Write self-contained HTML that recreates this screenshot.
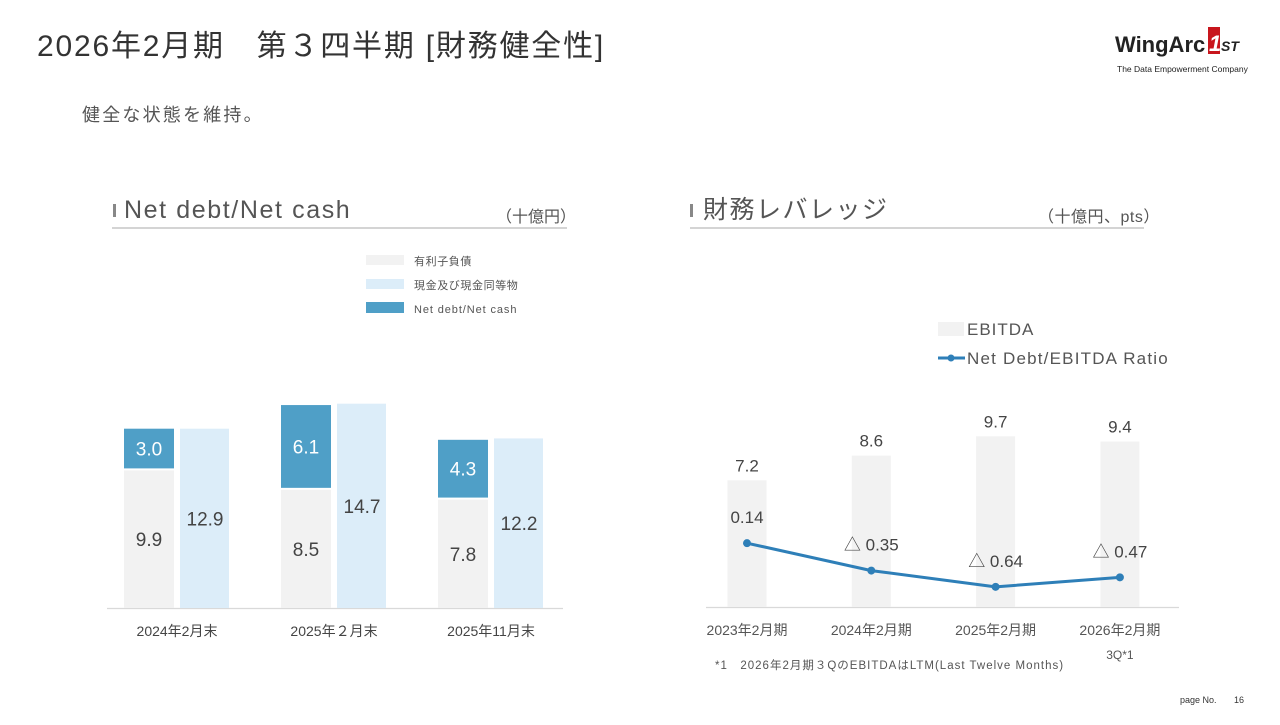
<!DOCTYPE html>
<html><head><meta charset="utf-8">
<style>
html,body{margin:0;padding:0;background:#fff;}
body{width:1280px;height:720px;overflow:hidden;position:relative;font-family:"Liberation Sans","Noto Sans CJK JP",sans-serif;}
svg text{font-family:"Liberation Sans","Noto Sans CJK JP",sans-serif;}
</style></head>
<body>
<svg width="1280" height="720" viewBox="0 0 1280 720">
  <text x="37" y="56" font-size="30" fill="#333" letter-spacing="1.8">2026年2月期　第３四半期 [財務健全性]</text>
  <g>
    <text x="1115" y="52" font-size="22" font-weight="bold" fill="#222">WingArc</text>
    <rect x="1208" y="27" width="12" height="27" fill="#c8161d"/>
    <text x="1209" y="51" font-size="22" font-weight="bold" fill="#fff" font-style="italic">1</text>
    <text x="1221" y="51" font-size="14" font-weight="bold" fill="#222" font-style="italic">ST</text>
    <text x="1117" y="72" font-size="8.5" fill="#222">The Data Empowerment Company</text>
  </g>
  <text x="82" y="121" font-size="18" fill="#555" letter-spacing="2.2">健全な状態を維持。</text>

  <rect x="113" y="204" width="3" height="13" fill="#888"/>
  <text x="124" y="218" font-size="25" fill="#555" letter-spacing="1.6">Net debt/Net cash</text>
  <text x="496" y="222" font-size="16" fill="#555">（十億円）</text>
  <line x1="112" y1="228" x2="567" y2="228" stroke="#bbb" stroke-width="1.2"/>

  <rect x="690" y="204" width="3" height="13" fill="#888"/>
  <text x="703" y="218" font-size="25" fill="#555" letter-spacing="1.5">財務レバレッジ</text>
  <text x="1038" y="222" font-size="16" fill="#555" letter-spacing="0.5">（十億円、pts）</text>
  <line x1="690" y1="228" x2="1144" y2="228" stroke="#bbb" stroke-width="1.2"/>

  <g>
    <rect x="366" y="255" width="38" height="10" fill="#f2f2f2"/>
    <text x="414" y="265" font-size="11" fill="#555" letter-spacing="0.6">有利子負債</text>
    <rect x="366" y="279" width="38" height="10" fill="#dcedf9"/>
    <text x="414" y="289" font-size="11" fill="#555" letter-spacing="0.6">現金及び現金同等物</text>
    <rect x="366" y="302" width="38" height="11" fill="#4f9fc7"/>
    <text x="414" y="313" font-size="11" fill="#555" letter-spacing="0.9">Net debt/Net cash</text>
  </g>

  <g>
    <rect x="938" y="322" width="26" height="14" fill="#f2f2f2"/>
    <text x="967" y="335" font-size="17" fill="#555" letter-spacing="1">EBITDA</text>
    <line x1="938" y1="358" x2="965" y2="358" stroke="#2e7fb8" stroke-width="3"/>
    <circle cx="951" cy="358" r="3.5" fill="#2e7fb8"/>
    <text x="967" y="364" font-size="17" fill="#555" letter-spacing="1.2">Net Debt/EBITDA Ratio</text>
  </g>

  <g id="left-chart"></g>
  <g id="right-chart"></g>

  <text x="715" y="669" font-size="11.5" fill="#555" letter-spacing="1">*1　2026年2月期３QのEBITDAはLTM(Last Twelve Months)</text>
  <text x="1180" y="703" font-size="9" fill="#333">page No.</text>
  <text x="1234" y="703" font-size="9" fill="#333">16</text>
</svg>
<script>
const leftCategories = ["2024年2月末", "2025年２月末", "2025年11月末"];
const debtValues = [9.9, 8.5, 7.8];
const netCashValues = [3.0, 6.1, 4.3];
const cashValues = [12.9, 14.7, 12.2];

const rightCategories = ["2023年2月期", "2024年2月期", "2025年2月期", "2026年2月期"];
const ebitdaValues = [7.2, 8.6, 9.7, 9.4];
const ratioValues = [0.14, -0.35, -0.64, -0.47];

const NS = "http://www.w3.org/2000/svg";
function mk(parent, tag, attrs, text) {
  const e = document.createElementNS(NS, tag);
  for (const k in attrs) e.setAttribute(k, attrs[k]);
  if (text !== undefined) e.textContent = text;
  parent.appendChild(e);
  return e;
}

const L = document.getElementById("left-chart");
const lBase = 608, lScale = 13.9;
const lY = v => lBase - v * lScale;
const lX = i => 177 + i * 157;
const bw = 50;
mk(L, "line", {x1: 107, y1: lBase + 0.5, x2: 563, y2: lBase + 0.5, stroke: "#d9d9d9", "stroke-width": 1.2});
leftCategories.forEach((c, i) => {
  const cx = lX(i);
  const dx = cx - 53;
  const yDebt = lY(debtValues[i]);
  let r = mk(L, "rect", {x: dx, y: yDebt, width: bw, height: lBase - yDebt, fill: "#f2f2f2"});
  
  
  const yNet = lY(debtValues[i] + netCashValues[i]);
  r = mk(L, "rect", {x: dx, y: yNet, width: bw, height: yDebt - yNet - 2, fill: "#4f9fc7"});
  
  
  const cxx = cx + 3;
  const yCash = lY(cashValues[i]);
  r = mk(L, "rect", {x: cxx, y: yCash, width: bw - 1, height: lBase - yCash, fill: "#dcedf9"});
  
  
  let t = mk(L, "text", {x: dx + bw / 2, y: (yDebt + lBase) / 2 + 7, "font-size": 19, fill: "#444", "text-anchor": "middle"}, debtValues[i].toFixed(1));
  
  
  t = mk(L, "text", {x: dx + bw / 2, y: (yNet + yDebt - 2) / 2 + 7, "font-size": 19, fill: "#fff", "text-anchor": "middle"}, netCashValues[i].toFixed(1));
  
  
  t = mk(L, "text", {x: cxx + bw / 2, y: (yCash + lBase) / 2 + 7, "font-size": 19, fill: "#444", "text-anchor": "middle"}, cashValues[i].toFixed(1));
  
  
  t = mk(L, "text", {x: cx, y: 636, "font-size": 14, fill: "#444", "text-anchor": "middle"}, c);
  
  
});

const R = document.getElementById("right-chart");
const rBase = 607, rScale = 17.6;
const rY = v => rBase - v * rScale;
const rX = i => 747 + i * 124.3;
const rZero = 551, rRatio = 56;
const ryR = v => rZero - v * rRatio;
mk(R, "line", {x1: 706, y1: rBase + 0.5, x2: 1179, y2: rBase + 0.5, stroke: "#d9d9d9", "stroke-width": 1.2});
rightCategories.forEach((c, i) => {
  const cx = rX(i);
  const y = rY(ebitdaValues[i]);
  const r = mk(R, "rect", {x: cx - 19.5, y: y, width: 39, height: rBase - y, fill: "#f2f2f2"});
  
  
  let t = mk(R, "text", {x: cx, y: y - 9, "font-size": 17, fill: "#444", "text-anchor": "middle"}, ebitdaValues[i].toFixed(1));
  
  
  t = mk(R, "text", {x: cx, y: 635, "font-size": 14, fill: "#555", "text-anchor": "middle"}, c);
  
  
});
mk(R, "text", {x: rX(3), y: 659, "font-size": 12, fill: "#555", "text-anchor": "middle"}, "3Q*1");
const pts = ratioValues.map((v, i) => rX(i) + "," + ryR(v)).join(" ");
const pl = mk(R, "polyline", {points: pts, fill: "none", stroke: "#2e7fb8", "stroke-width": 3, "stroke-linejoin": "round"});


ratioValues.forEach((v, i) => {
  const c = mk(R, "circle", {cx: rX(i), cy: ryR(v), r: 4, fill: "#2e7fb8"});
  
  
  const label = v < 0 ? "△ " + Math.abs(v).toFixed(2) : v.toFixed(2);
  const t = mk(R, "text", {x: rX(i), y: ryR(v) - 20, "font-size": 17, fill: "#444", "text-anchor": "middle"}, label);
  
  
});
</script>
</body></html>
